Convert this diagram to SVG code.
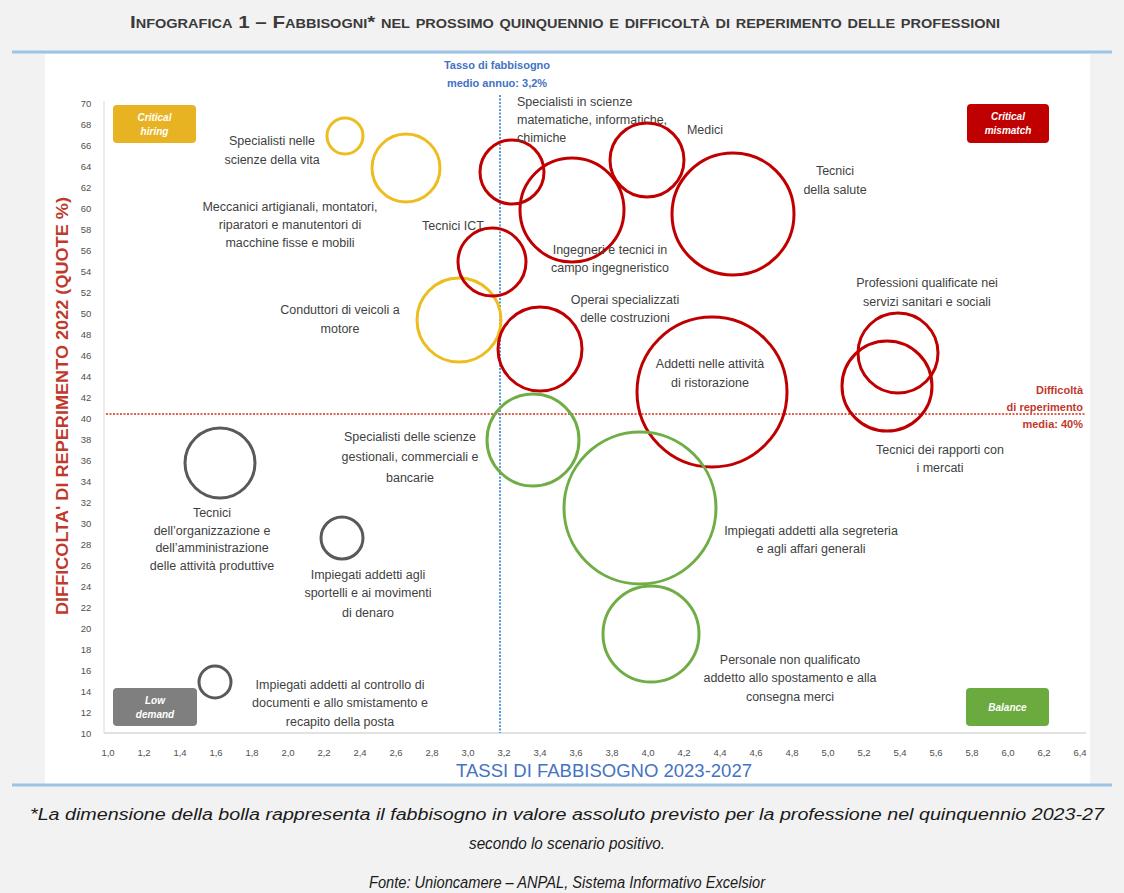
<svg xmlns="http://www.w3.org/2000/svg" width="1124" height="893" viewBox="0 0 1124 893">
<style>
.lbl{font-family:"Liberation Sans",Arial,sans-serif;font-size:12.5px;fill:#3f3f3f;text-anchor:middle}
.tick{font-family:"Liberation Sans",Arial,sans-serif;font-size:9.5px;fill:#505050;text-anchor:middle}
.q{font-family:"Liberation Sans",Arial,sans-serif;font-size:10px;font-style:italic;font-weight:bold;fill:#ffffff;text-anchor:middle}
.red{fill:none;stroke:#c00000;stroke-width:3}
.yel{fill:none;stroke:#edbd1f;stroke-width:3}
.grn{fill:none;stroke:#70ad47;stroke-width:3}
.gry{fill:none;stroke:#595959;stroke-width:3}
.foot{font-family:"Liberation Sans",Arial,sans-serif;font-size:16px;font-style:italic;fill:#1a1a1a;text-anchor:middle}
</style>
<rect x="0" y="0" width="1124" height="893" fill="#f2f2f2"/>
<rect x="45" y="54" width="1045" height="730" fill="#ffffff"/>
<line x1="12" y1="52" x2="1112" y2="52" stroke="#9dc3e6" stroke-width="3"/>
<line x1="12" y1="785" x2="1112" y2="785" stroke="#9dc3e6" stroke-width="3"/>
<text x="565" y="28" font-family="'Liberation Sans',Arial,sans-serif" font-size="17" font-weight="bold" font-variant="small-caps" fill="#3a3a3a" text-anchor="middle" textLength="870" lengthAdjust="spacingAndGlyphs">Infografica 1 – Fabbisogni* nel prossimo quinquennio e difficoltà di reperimento delle professioni</text>

<g id="axes">
<line x1="104" y1="101" x2="104" y2="733" stroke="#d9d9d9" stroke-width="1"/>
<line x1="104" y1="733" x2="1086" y2="733" stroke="#d9d9d9" stroke-width="1.5"/>
<g class="ytick">
<text class="tick" x="86" y="106.5">70</text><text class="tick" x="86" y="127.5">68</text><text class="tick" x="86" y="148.5">66</text><text class="tick" x="86" y="169.5">64</text><text class="tick" x="86" y="190.5">62</text><text class="tick" x="86" y="211.5">60</text><text class="tick" x="86" y="232.5">58</text><text class="tick" x="86" y="253.5">56</text><text class="tick" x="86" y="274.5">54</text><text class="tick" x="86" y="295.5">52</text><text class="tick" x="86" y="316.5">50</text><text class="tick" x="86" y="337.5">48</text><text class="tick" x="86" y="358.5">46</text><text class="tick" x="86" y="379.5">44</text><text class="tick" x="86" y="400.5">42</text><text class="tick" x="86" y="421.5">40</text><text class="tick" x="86" y="442.5">38</text><text class="tick" x="86" y="463.5">36</text><text class="tick" x="86" y="484.5">34</text><text class="tick" x="86" y="505.5">32</text><text class="tick" x="86" y="526.5">30</text><text class="tick" x="86" y="547.5">28</text><text class="tick" x="86" y="568.5">26</text><text class="tick" x="86" y="589.5">24</text><text class="tick" x="86" y="610.5">22</text><text class="tick" x="86" y="631.5">20</text><text class="tick" x="86" y="652.5">18</text><text class="tick" x="86" y="673.5">16</text><text class="tick" x="86" y="694.5">14</text><text class="tick" x="86" y="715.5">12</text><text class="tick" x="86" y="736.5">10</text>
</g>
<g class="xtick">
<text class="tick" x="108" y="756">1,0</text><text class="tick" x="144" y="756">1,2</text><text class="tick" x="180" y="756">1,4</text><text class="tick" x="216" y="756">1,6</text><text class="tick" x="252" y="756">1,8</text><text class="tick" x="288" y="756">2,0</text><text class="tick" x="324" y="756">2,2</text><text class="tick" x="360" y="756">2,4</text><text class="tick" x="396" y="756">2,6</text><text class="tick" x="432" y="756">2,8</text><text class="tick" x="468" y="756">3,0</text><text class="tick" x="504" y="756">3,2</text><text class="tick" x="540" y="756">3,4</text><text class="tick" x="576" y="756">3,6</text><text class="tick" x="612" y="756">3,8</text><text class="tick" x="648" y="756">4,0</text><text class="tick" x="684" y="756">4,2</text><text class="tick" x="720" y="756">4,4</text><text class="tick" x="756" y="756">4,6</text><text class="tick" x="792" y="756">4,8</text><text class="tick" x="828" y="756">5,0</text><text class="tick" x="864" y="756">5,2</text><text class="tick" x="900" y="756">5,4</text><text class="tick" x="936" y="756">5,6</text><text class="tick" x="972" y="756">5,8</text><text class="tick" x="1008" y="756">6,0</text><text class="tick" x="1044" y="756">6,2</text><text class="tick" x="1080" y="756">6,4</text>
</g>
<text x="604" y="777" font-family="'Liberation Sans',Arial,sans-serif" font-size="18" fill="#4472c4" text-anchor="middle" textLength="296" lengthAdjust="spacingAndGlyphs">TASSI DI FABBISOGNO 2023-2027</text>
<text transform="translate(68,406) rotate(-90)" font-family="'Liberation Sans',Arial,sans-serif" font-size="17" font-weight="bold" fill="#c0392b" text-anchor="middle" textLength="418" lengthAdjust="spacingAndGlyphs">DIFFICOLTA' DI REPERIMENTO 2022 (QUOTE %)</text>
</g>

<g id="reference-lines">
<line x1="106" y1="414" x2="1086" y2="414" stroke="#e0604e" stroke-width="2" stroke-dasharray="2,1.5"/>
<line x1="500" y1="95" x2="500" y2="733" stroke="#5b9bd5" stroke-width="2" stroke-dasharray="2,1.5"/>
<text x="497" y="69" font-family="'Liberation Sans',Arial,sans-serif" font-size="11" font-weight="bold" fill="#4472c4" text-anchor="middle">Tasso di fabbisogno</text>
<text x="497" y="87" font-family="'Liberation Sans',Arial,sans-serif" font-size="11" font-weight="bold" fill="#4472c4" text-anchor="middle">medio annuo: 3,2%</text>
<text x="1083" y="394" font-family="'Liberation Sans',Arial,sans-serif" font-size="11" font-weight="bold" fill="#c0392b" text-anchor="end">Difficoltà</text>
<text x="1083" y="411" font-family="'Liberation Sans',Arial,sans-serif" font-size="11" font-weight="bold" fill="#c0392b" text-anchor="end">di reperimento</text>
<text x="1083" y="428" font-family="'Liberation Sans',Arial,sans-serif" font-size="11" font-weight="bold" fill="#c0392b" text-anchor="end">media: 40%</text>
</g>

<g id="quadrants">
<g id="q-critical-hiring"><rect x="113" y="105" width="83" height="38" rx="4" fill="#e8b323"/><text class="q" x="154.5" y="121">Critical</text><text class="q" x="154.5" y="135">hiring</text></g>
<g id="q-critical-mismatch"><rect x="967" y="104" width="82" height="39" rx="4" fill="#c00000"/><text class="q" x="1008" y="120">Critical</text><text class="q" x="1008" y="134">mismatch</text></g>
<g id="q-low-demand"><rect x="113" y="688" width="84" height="38" rx="4" fill="#7f7f7f"/><text class="q" x="155" y="704">Low</text><text class="q" x="155" y="718">demand</text></g>
<g id="q-balance"><rect x="966" y="688" width="83" height="38" rx="4" fill="#6aaa3e"/><text class="q" x="1007.5" y="711">Balance</text></g>
</g>

<g id="bubbles">
<g id="b-specialisti-vita"><circle class="yel" cx="345" cy="136" r="18"/><text class="lbl" x="272" y="145">Specialisti nelle</text><text class="lbl" x="272" y="164">scienze della vita</text></g>
<g id="b-meccanici"><circle class="yel" cx="406" cy="168" r="34"/><text class="lbl" x="290" y="211">Meccanici artigianali, montatori,</text><text class="lbl" x="290" y="229">riparatori e manutentori di</text><text class="lbl" x="290" y="247">macchine fisse e mobili</text></g>
<g id="b-conduttori"><circle class="yel" cx="459" cy="320" r="42"/><text class="lbl" x="340" y="314">Conduttori di veicoli a</text><text class="lbl" x="340" y="333">motore</text></g>
<g id="b-specialisti-mat"><circle class="red" cx="512" cy="172" r="32"/><text class="lbl" x="517" y="106" style="text-anchor:start">Specialisti in scienze</text><text class="lbl" x="517" y="124" style="text-anchor:start">matematiche, informatiche,</text><text class="lbl" x="517" y="142" style="text-anchor:start">chimiche</text></g>
<g id="b-ingegneri"><circle class="red" cx="572" cy="210" r="52"/><text class="lbl" x="610" y="254">Ingegneri e tecnici in</text><text class="lbl" x="610" y="272">campo ingegneristico</text></g>
<g id="b-medici"><circle class="red" cx="647" cy="160" r="37"/><text class="lbl" x="705" y="134">Medici</text></g>
<g id="b-tecnici-salute"><circle class="red" cx="733" cy="214" r="61"/><text class="lbl" x="835" y="175">Tecnici</text><text class="lbl" x="835" y="194">della salute</text></g>
<g id="b-tecnici-ict"><circle class="red" cx="492" cy="262" r="34"/><text class="lbl" x="453" y="230">Tecnici ICT</text></g>
<g id="b-operai"><circle class="red" cx="540" cy="349" r="42"/><text class="lbl" x="625" y="304">Operai specializzati</text><text class="lbl" x="625" y="322">delle costruzioni</text></g>
<g id="b-ristorazione"><circle class="red" cx="712" cy="392" r="75"/><text class="lbl" x="710" y="368">Addetti nelle attività</text><text class="lbl" x="710" y="387">di ristorazione</text></g>
<g id="b-professioni-sanitarie"><circle class="red" cx="898" cy="353" r="40"/><text class="lbl" x="927" y="287">Professioni qualificate nei</text><text class="lbl" x="927" y="306">servizi sanitari e sociali</text></g>
<g id="b-tecnici-rapporti"><circle class="red" cx="887" cy="386" r="45"/><text class="lbl" x="940" y="454">Tecnici dei rapporti con</text><text class="lbl" x="940" y="472">i mercati</text></g>
<g id="b-specialisti-gestionali"><circle class="grn" cx="533" cy="440" r="46"/><text class="lbl" x="410" y="441">Specialisti delle scienze</text><text class="lbl" x="410" y="461">gestionali, commerciali e</text><text class="lbl" x="410" y="482">bancarie</text></g>
<g id="b-segreteria"><circle class="grn" cx="640" cy="508" r="76"/><text class="lbl" x="811" y="535">Impiegati addetti alla segreteria</text><text class="lbl" x="811" y="553">e agli affari generali</text></g>
<g id="b-personale"><circle class="grn" cx="651" cy="634" r="48"/><text class="lbl" x="790" y="664">Personale non qualificato</text><text class="lbl" x="790" y="682">addetto allo spostamento e alla</text><text class="lbl" x="790" y="701">consegna merci</text></g>
<g id="b-tecnici-organizzazione"><circle class="gry" cx="220" cy="463" r="35"/><text class="lbl" x="212" y="517">Tecnici</text><text class="lbl" x="212" y="535">dell’organizzazione e</text><text class="lbl" x="212" y="552">dell’amministrazione</text><text class="lbl" x="212" y="570">delle attività produttive</text></g>
<g id="b-sportelli"><circle class="gry" cx="342" cy="538" r="21"/><text class="lbl" x="368" y="579">Impiegati addetti agli</text><text class="lbl" x="368" y="597">sportelli e ai movimenti</text><text class="lbl" x="368" y="617">di denaro</text></g>
<g id="b-controllo"><circle class="gry" cx="215" cy="682" r="16"/><text class="lbl" x="340" y="689">Impiegati addetti al controllo di</text><text class="lbl" x="340" y="707">documenti e allo smistamento e</text><text class="lbl" x="340" y="726">recapito della posta</text></g>
</g>

<g id="footnote">
<text class="foot" x="567" y="820" textLength="1074" lengthAdjust="spacingAndGlyphs">*La dimensione della bolla rappresenta il fabbisogno in valore assoluto previsto per la professione nel quinquennio 2023-27</text>
<text class="foot" x="567" y="849" textLength="196" lengthAdjust="spacingAndGlyphs">secondo lo scenario positivo.</text>
<text class="foot" x="567" y="888" textLength="396" lengthAdjust="spacingAndGlyphs">Fonte: Unioncamere – ANPAL, Sistema Informativo Excelsior</text>
</g>
</svg>
